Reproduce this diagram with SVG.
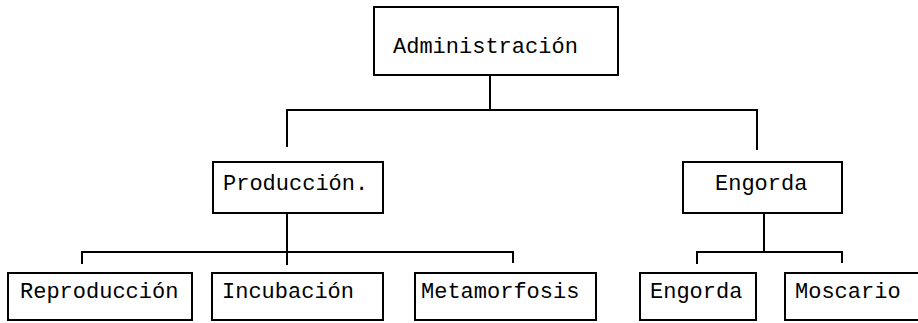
<svg xmlns="http://www.w3.org/2000/svg" width="918" height="323" viewBox="0 0 918 323">
<style>
.box{fill:#fff;stroke:#000;stroke-width:2}
.lbl{font-family:"Liberation Mono","Courier New",monospace;font-size:22px;fill:#000}
.conn{fill:none;stroke:#000;stroke-width:2}
</style>
<rect width="918" height="323" fill="#fff"/>
<g id="connectors">
<path class="conn" d="M490,75 V110 M287,147 V110 H757 V150"/>
<path class="conn" d="M287,213 V265 M82,264 V252 H513 V263"/>
<path class="conn" d="M764,213 V253 M697,264 V252 H842 V263"/>
</g>
<g id="administracion"><rect class="box" x="374" y="7" width="244" height="68"/><text class="lbl" x="393" y="53">Administración</text></g>
<g id="produccion"><rect class="box" x="213" y="162" width="170" height="51"/><text class="lbl" x="223" y="190">Producción.</text></g>
<g id="engorda-top"><rect class="box" x="683" y="162" width="159" height="51"/><text class="lbl" x="715" y="190">Engorda</text></g>
<g id="reproduccion"><rect class="box" x="8" y="273" width="184" height="47"/><text class="lbl" x="20" y="298">Reproducción</text></g>
<g id="incubacion"><rect class="box" x="212" y="273" width="171" height="47"/><text class="lbl" x="222" y="298">Incubación</text></g>
<g id="metamorfosis"><rect class="box" x="415" y="273" width="181" height="47"/><text class="lbl" x="421" y="298">Metamorfosis</text></g>
<g id="engorda"><rect class="box" x="640" y="273" width="116" height="47"/><text class="lbl" x="650" y="298">Engorda</text></g>
<g id="moscario"><rect class="box" x="785" y="273" width="140" height="47"/><text class="lbl" x="795" y="298">Moscario</text></g>
</svg>
